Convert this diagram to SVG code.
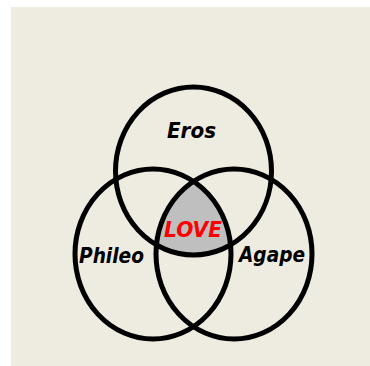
<svg xmlns="http://www.w3.org/2000/svg" width="370" height="366" viewBox="0 0 370 366">
<style>
.ring{fill:none;stroke:#000;stroke-width:5}
.lbl{font-family:"DejaVu Sans","Liberation Sans",sans-serif;font-weight:bold;font-style:italic;font-size:21px;fill:#000}
.love{fill:#FF0000}
</style>
<defs>
<clipPath id="cl"><ellipse cx="153" cy="254" rx="78" ry="85"/></clipPath>
<clipPath id="cr"><ellipse cx="234" cy="254" rx="78" ry="85"/></clipPath>
</defs>
<rect id="background" x="11" y="7" width="359" height="359" fill="#EEECE1"/>
<g id="love-region">
<g clip-path="url(#cr)"><g clip-path="url(#cl)"><ellipse cx="193.5" cy="171" rx="78" ry="84" fill="#BFBFBF"/></g></g>
</g>
<g id="connectors"></g>
<g id="eros"><ellipse class="ring" cx="193.5" cy="171" rx="78" ry="84"/><text class="lbl" x="167" y="138" textLength="49" lengthAdjust="spacingAndGlyphs">Eros</text></g>
<g id="phileo"><ellipse class="ring" cx="153" cy="254" rx="78" ry="85"/><text class="lbl" x="79" y="263" textLength="65" lengthAdjust="spacingAndGlyphs">Phileo</text></g>
<g id="agape"><ellipse class="ring" cx="234" cy="254" rx="78" ry="85"/><text class="lbl" x="239" y="262" textLength="66" lengthAdjust="spacingAndGlyphs">Agape</text></g>
<g id="love"><text class="lbl love" x="164" y="237" textLength="58" lengthAdjust="spacingAndGlyphs">LOVE</text></g>
</svg>
